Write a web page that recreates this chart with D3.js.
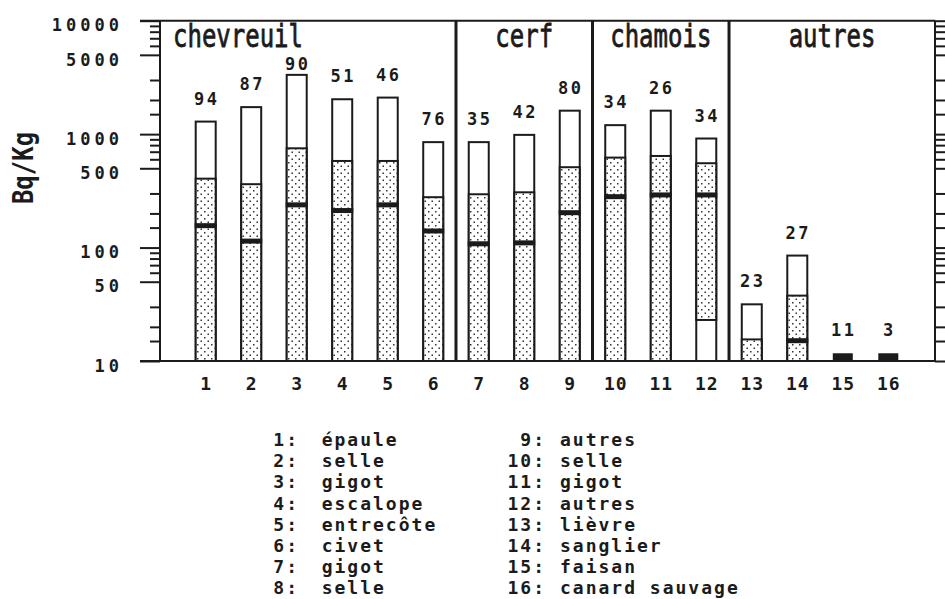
<!DOCTYPE html>
<html>
<head>
<meta charset="utf-8">
<script src="https://cdn.jsdelivr.net/npm/d3@7"></script>
<style>
  body { margin: 0; background: #fff; }
  svg { display: block; font-family: "DejaVu Sans Mono", monospace; font-weight: bold; }
</style>
</head>
<body>
<svg id="chart"></svg>
<script>
// ---------------- data ----------------
const cats = d3.range(1, 17);
const counts = [94, 87, 90, 51, 46, 76, 35, 42, 80, 34, 26, 34, 23, 27, 11, 3];
// top of white box (max)
const maxVals = [1290, 1730, 3330, 2030, 2100, 850, 850, 985, 1610, 1200, 1610, 915, 31.6, 85, 11.7, 11.7];
// top of dotted part
const upperVals = [405, 362, 750, 580, 580, 278, 295, 307, 511, 621, 642, 554, 15.5, 37.7, null, null];
// median mark
const medianVals = [156, 114, 238, 212, 238, 140, 108, 110, 203, 281, 291, 291, null, 15.1, null, null];
// bottom of dotted part (null = axis floor)
const lowerVals = [null, null, null, null, null, null, null, null, null, null, null, 23, null, null, null, null];
// bars with all values under the detection limit (drawn solid)
const solidBars = [15, 16];

const groups = ["chevreuil", "cerf", "chamois", "autres"];
const groupLastCat = [6, 9, 12, 16];

const partNames = ["épaule", "selle", "gigot", "escalope", "entrecôte", "civet", "gigot", "selle",
                   "autres", "selle", "gigot", "autres", "lièvre", "sanglier", "faisan", "canard sauvage"];

const majorTicks = [10, 50, 100, 500, 1000, 5000, 10000];
const minorTicks = [15, 20, 30, 60, 70, 80, 90, 150, 200, 300, 600, 700, 800, 900, 1500, 2000, 3000, 6000, 7000, 8000, 9000];

// ---------------- layout ----------------
const width = 945, height = 599;
const axisLeftX = 160, axisRightX = 935, plotTop = 20.7, plotBottom = 361;
const barW = 20;
const ink = "#1b1b1b";

const svg = d3.select("#chart").attr("width", width).attr("height", height);

const x = d3.scalePoint().domain(cats).range([205.7, 888.3]);
const y = d3.scaleLog().domain([10, 10000]).range([plotBottom, plotTop]);

// dotted fill
const defs = svg.append("defs");
const pat = defs.append("pattern")
  .attr("id", "dots").attr("patternUnits", "userSpaceOnUse")
  .attr("width", 7).attr("height", 7);
pat.append("rect").attr("width", 7).attr("height", 7).attr("fill", "#fff");
pat.append("rect").attr("x", 1).attr("y", 1).attr("width", 1.5).attr("height", 1.5).attr("fill", "#333");
pat.append("rect").attr("x", 4.5).attr("y", 4.5).attr("width", 1.5).attr("height", 1.5).attr("fill", "#333");

// ---------------- axes ----------------
const leftMajor = svg.append("g")
  .attr("transform", "translate(" + axisLeftX + ",0)")
  .call(d3.axisLeft(y).tickValues(majorTicks).tickSize(20).tickPadding(17).tickFormat(d3.format("d")));
const leftMinor = svg.append("g")
  .attr("transform", "translate(" + axisLeftX + ",0)")
  .call(d3.axisLeft(y).tickValues(minorTicks).tickSize(10).tickFormat(""));
const rightMajor = svg.append("g")
  .attr("transform", "translate(" + axisRightX + ",0)")
  .call(d3.axisRight(y).tickValues(majorTicks).tickSize(20).tickFormat(""));
const rightMinor = svg.append("g")
  .attr("transform", "translate(" + axisRightX + ",0)")
  .call(d3.axisRight(y).tickValues(minorTicks).tickSize(10).tickFormat(""));

[leftMajor, leftMinor, rightMajor, rightMinor].forEach(g => {
  g.select(".domain").remove();
  g.selectAll("line").attr("stroke", ink).attr("stroke-width", 2);
});
leftMajor.selectAll("text")
  .attr("fill", ink).attr("font-size", 17).attr("font-family", "DejaVu Sans Mono")
  .attr("font-weight", "bold").attr("letter-spacing", 4).attr("dy", "0.6em");

// frame
svg.append("line").attr("x1", axisLeftX).attr("x2", axisLeftX).attr("y1", plotTop).attr("y2", plotBottom)
  .attr("stroke", ink).attr("stroke-width", 2);
svg.append("line").attr("x1", axisRightX).attr("x2", axisRightX).attr("y1", plotTop).attr("y2", plotBottom)
  .attr("stroke", ink).attr("stroke-width", 2);
svg.append("line").attr("x1", 140).attr("x2", axisRightX).attr("y1", plotTop).attr("y2", plotTop)
  .attr("stroke", ink).attr("stroke-width", 2);
svg.append("line").attr("x1", 140).attr("x2", axisRightX).attr("y1", plotBottom).attr("y2", plotBottom)
  .attr("stroke", ink).attr("stroke-width", 2);

// bottom category labels
const bottomAxis = svg.append("g")
  .attr("transform", "translate(0," + plotBottom + ")")
  .call(d3.axisBottom(x).tickSize(0).tickPadding(16));
bottomAxis.select(".domain").remove();
bottomAxis.selectAll("text")
  .attr("fill", ink).attr("font-size", 18).attr("font-family", "DejaVu Sans Mono")
  .attr("font-weight", "bold").attr("letter-spacing", 1);

// y axis title
svg.append("text")
  .attr("transform", "translate(33,168) rotate(-90) scale(1,1.15)")
  .attr("text-anchor", "middle")
  .attr("font-size", 24).attr("fill", ink)
  .text("Bq/Kg");

// ---------------- group separators & labels ----------------
const step = x.step();
const sepX = groupLastCat.slice(0, -1).map(c => x(c) + step / 2);
svg.selectAll(".sep").data(sepX).join("line")
  .attr("x1", d => d).attr("x2", d => d)
  .attr("y1", plotTop).attr("y2", plotBottom)
  .attr("stroke", ink).attr("stroke-width", 3);

const bounds = [axisLeftX].concat(sepX, [axisRightX]);
groups.forEach((g, i) => {
  const cx = i === 0 ? bounds[0] + 13 : (bounds[i] + bounds[i + 1]) / 2;
  svg.append("text")
    .attr("transform", "translate(" + cx + ",47) scale(1,1.3)")
    .attr("text-anchor", i === 0 ? "start" : "middle")
    .attr("font-size", 24).attr("font-weight", "normal")
    .attr("fill", ink).attr("stroke", ink).attr("stroke-width", 0.6)
    .text(g);
});

// ---------------- bars ----------------
const bars = cats.map((c, i) => ({
  cat: c, n: counts[i], max: maxVals[i], upper: upperVals[i],
  median: medianVals[i], lower: lowerVals[i] === null ? 10 : lowerVals[i],
  solid: solidBars.includes(c)
}));

const barG = svg.append("g");
bars.forEach(d => {
  const bx = x(d.cat) - barW / 2;
  if (d.solid) {
    barG.append("rect")
      .attr("x", bx).attr("y", y(d.max))
      .attr("width", barW).attr("height", y(10) - y(d.max))
      .attr("fill", ink);
    return;
  }
  // whole box
  barG.append("rect")
    .attr("x", bx).attr("y", y(d.max))
    .attr("width", barW).attr("height", y(10) - y(d.max))
    .attr("fill", "#fff").attr("stroke", ink).attr("stroke-width", 2);
  // dotted part
  barG.append("rect")
    .attr("x", bx).attr("y", y(d.upper))
    .attr("width", barW).attr("height", y(d.lower) - y(d.upper))
    .attr("fill", "url(#dots)").attr("stroke", ink).attr("stroke-width", 2);
  // median
  if (d.median !== null) {
    barG.append("rect")
      .attr("x", bx - 1).attr("y", y(d.median) - 2.5)
      .attr("width", barW + 2).attr("height", 5)
      .attr("fill", ink);
  }
});

// counts above bars
svg.selectAll(".count").data(bars).join("text")
  .attr("x", d => x(d.cat) + 1)
  .attr("y", d => Math.max(y(d.max) - 17, 70))
  .attr("text-anchor", "middle")
  .attr("font-size", 17).attr("letter-spacing", 2.5).attr("fill", ink)
  .text(d => d.n);

// ---------------- legend ----------------
const legendRows = d3.range(8);
const lineH = 21.2, firstBase = 446;
[{ offset: 0, numEnd: 297, nameX: 321.7 }, { offset: 8, numEnd: 544, nameX: 560 }].forEach(col => {
  const lg = svg.append("g").attr("font-size", 18).attr("letter-spacing", 2).attr("fill", ink);
  legendRows.forEach(r => {
    const idx = col.offset + r;
    lg.append("text")
      .attr("x", col.numEnd + 2).attr("y", firstBase + r * lineH)
      .attr("text-anchor", "end")
      .text(cats[idx] + ":");
    lg.append("text")
      .attr("x", col.nameX).attr("y", firstBase + r * lineH)
      .text(partNames[idx]);
  });
});
</script>
</body>
</html>
